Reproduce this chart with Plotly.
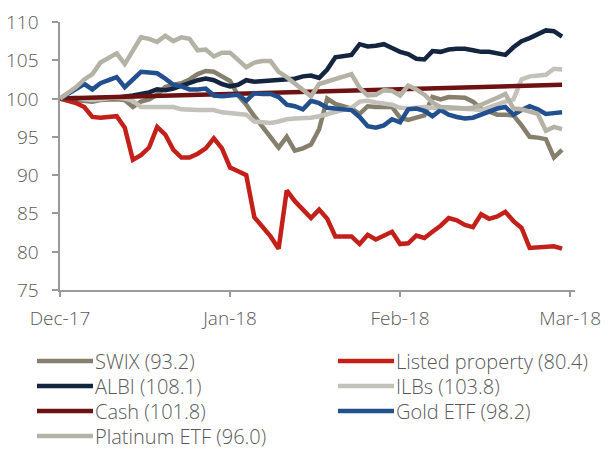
import plotly.graph_objects as go

tick_pos = [0, 21, 42, 63]
tick_text = ["Dec-17", "Jan-18", "Feb-18", "Mar-18"]
y_ticks = [75, 80, 85, 90, 95, 100, 105, 110]
x_idx = list(range(63))

swix = [100.0, 99.9, 99.8, 99.7, 99.6, 99.8, 99.9, 99.9, 99.8, 98.9,
        99.6, 99.9, 100.5, 101.5, 101.8, 102.0, 102.5, 103.2, 103.6, 103.5,
        102.9, 102.3, 100.4, 99.2, 97.7, 96.3, 95.1, 93.6, 95.0, 93.2,
        93.5, 94.0, 96.0, 100.0, 99.3, 99.0, 98.7, 98.0, 99.0, 98.9,
        98.9, 98.9, 97.5, 97.2, 97.5, 97.8, 100.2, 99.9, 100.2, 100.2,
        100.1, 99.6, 98.7, 98.3, 97.9, 97.9, 97.8, 96.5, 95.0, 94.9,
        94.7, 92.3, 93.3]

listed = [100.0, 99.7, 99.4, 98.9, 97.6, 97.5, 97.6, 97.7, 96.2, 92.0,
          92.6, 93.6, 96.3, 95.3, 93.3, 92.3, 92.3, 92.8, 93.5, 94.8,
          93.5, 91.0, 90.5, 90.0, 84.5, 83.2, 82.0, 80.4, 88.0, 86.6,
          85.5, 84.4, 85.5, 84.3, 82.0, 82.0, 82.0, 81.0, 82.2, 81.6,
          82.1, 82.6, 81.0, 81.1, 82.1, 81.8, 82.6, 83.4, 84.4, 84.1,
          83.5, 83.2, 84.9, 84.3, 84.6, 85.2, 84.0, 83.1, 80.5, 80.6,
          80.7, 80.7, 80.4]

albi = [100.0, 100.0, 100.0, 99.9, 100.0, 100.0, 100.0, 100.1, 100.2, 100.4,
        100.6, 100.8, 101.2, 101.1, 101.3, 101.7, 102.0, 102.4, 102.6, 102.4,
        101.9, 101.6, 101.8, 102.4, 102.2, 102.3, 102.3, 102.4, 102.6, 102.6,
        102.9, 103.0, 102.7, 103.8, 105.4, 105.5, 105.7, 107.1, 106.8, 106.9,
        107.1, 106.6, 106.1, 105.8, 105.2, 105.1, 106.2, 106.1, 106.4, 106.5,
        106.5, 106.3, 106.1, 106.1, 105.9, 105.7, 106.7, 107.5, 107.9, 108.4,
        108.9, 108.8, 108.1]

ilbs = [100.0, 100.1, 100.1, 99.9, 99.8, 99.9, 100.0, 100.1, 100.0, 99.7,
        98.9, 98.9, 98.9, 99.0, 98.9, 98.6, 98.5, 98.5, 98.5, 98.5,
        98.2, 98.1, 98.0, 97.9, 97.0, 96.9, 96.8, 97.0, 97.3, 97.4,
        97.4, 97.5, 97.7, 98.0, 98.3, 98.5, 98.8, 99.6, 99.7, 99.5,
        99.4, 99.2, 98.8, 98.7, 98.8, 98.9, 98.8, 98.7, 98.7, 98.7,
        98.7, 98.6, 98.5, 98.9, 99.3, 99.6, 99.9, 102.5, 102.9, 103.0,
        103.1, 103.9, 103.8]

cash = [100.00, 100.03, 100.06, 100.09, 100.12, 100.15, 100.17, 100.20, 100.23, 100.26,
        100.29, 100.32, 100.35, 100.38, 100.41, 100.44, 100.46, 100.49, 100.52, 100.55,
        100.58, 100.61, 100.64, 100.67, 100.70, 100.73, 100.75, 100.78, 100.81, 100.84,
        100.87, 100.90, 100.93, 100.96, 100.99, 101.02, 101.05, 101.07, 101.10, 101.13,
        101.16, 101.19, 101.22, 101.25, 101.28, 101.31, 101.34, 101.36, 101.39, 101.42,
        101.45, 101.48, 101.51, 101.54, 101.57, 101.60, 101.63, 101.65, 101.68, 101.71,
        101.74, 101.77, 101.80]

gold = [100.0, 100.6, 101.2, 101.9, 101.2, 102.0, 102.4, 102.8, 101.5, 102.6,
        103.5, 103.4, 103.3, 102.6, 101.8, 101.6, 101.2, 101.2, 101.3, 100.4,
        100.3, 100.4, 100.5, 99.7, 100.7, 100.6, 100.6, 100.2, 99.2, 99.0,
        98.6, 99.7, 99.4, 98.8, 98.7, 98.7, 98.5, 97.6, 96.4, 96.2,
        96.5, 97.3, 96.9, 98.6, 98.7, 98.4, 97.7, 98.5, 97.9, 97.6,
        97.4, 97.5, 97.9, 98.4, 98.7, 98.9, 97.9, 98.5, 99.0, 98.6,
        98.0, 98.1, 98.2]

platinum = [100.0, 100.8, 101.5, 102.5, 103.2, 104.7, 105.3, 105.9, 104.5, 106.3,
            108.0, 107.8, 107.4, 108.2, 107.5, 108.0, 107.8, 106.3, 106.4, 105.5,
            106.0, 106.0, 105.0, 104.1, 104.7, 104.9, 104.9, 103.5, 102.8, 102.0,
            101.2, 100.3, 101.9, 102.2, 102.5, 102.8, 103.2, 101.4, 100.4, 100.5,
            101.1, 101.0, 100.4, 101.7, 101.2, 100.5, 99.5, 98.9, 98.9, 98.8,
            98.7, 98.8, 99.2, 99.6, 100.1, 100.6, 98.7, 98.6, 98.3, 98.0,
            95.8, 96.3, 96.0]

names = ["SWIX (93.2)", "Listed property (80.4)", "ALBI (108.1)", "ILBs (103.8)",
         "Cash (101.8)", "Gold ETF (98.2)", "Platinum ETF (96.0)"]
values = [swix, listed, albi, ilbs, cash, gold, platinum]
colors = ["#857f6c", "#c4201a", "#13253f", "#c3c1ba", "#6e1111", "#22508e", "#b4b2a4"]

W, H = 607, 450
L, R, T, B = 60, 32, 22, 160
pw, ph = W - L - R, H - T - B

FONT = "Open Sans"
font_col = "#595959"
axis_col = "#9a9a9a"

fig = go.Figure()
for name, vals, col in zip(names, values, colors):
    fig.add_trace(go.Scatter(x=x_idx, y=vals, mode="lines", name=name,
                             line=dict(color=col, width=4.5), showlegend=False))

# y tick labels placed further from the axis, as in the reference
for v in y_ticks:
    fig.add_annotation(xref="paper", yref="y", x=0, y=v, text=str(v), showarrow=False,
                       xanchor="right", yanchor="middle", xshift=-20, borderpad=0,
                       font=dict(size=19, color=font_col, family=FONT, weight=300))

# manual two-column legend
col_x = [(37, 93, 96), (338, 394, 397)]
row_y = [361, 386, 411, 436]
for k, (name, col) in enumerate(zip(names, colors)):
    cx0, cx1, tx = col_x[k % 2]
    ry = row_y[k // 2]
    yp = (H - B - ry) / ph
    fig.add_shape(type="line", xref="paper", yref="paper",
                  x0=(cx0 - L) / pw, x1=(cx1 - L) / pw, y0=yp, y1=yp,
                  line=dict(color=col, width=4.5))
    fig.add_annotation(xref="paper", yref="paper", x=(tx - L) / pw, y=yp,
                       text=name, showarrow=False, xanchor="left", yanchor="middle",
                       xshift=-2, borderpad=0,
                       font=dict(size=20, color=font_col, family=FONT, weight=300))

fig.update_layout(
    width=W, height=H,
    margin=dict(l=L, r=R, t=T, b=B, autoexpand=False),
    paper_bgcolor="white", plot_bgcolor="white",
    font=dict(family=FONT, size=19, color=font_col, weight=300),
    showlegend=False,
)
fig.update_xaxes(range=[0, 63.6], tickmode="array", tickvals=tick_pos, ticktext=tick_text,
                 showgrid=False, zeroline=False, showline=True, linecolor=axis_col, linewidth=2,
                 ticks="outside", ticklen=5, tickwidth=2, tickcolor=axis_col,
                 ticklabelstandoff=5, tickfont=dict(size=19))
fig.update_yaxes(range=[75, 110], tickmode="array", tickvals=y_ticks, showticklabels=False,
                 showgrid=False, zeroline=False, showline=True, linecolor=axis_col, linewidth=2,
                 ticks="outside", ticklen=6, tickwidth=2, tickcolor=axis_col)

fig.write_html("out.html")
